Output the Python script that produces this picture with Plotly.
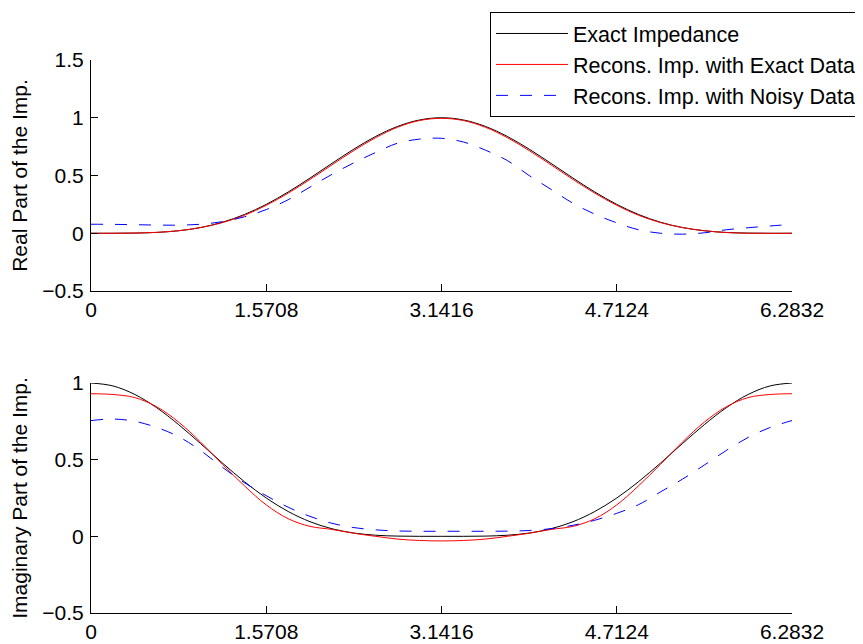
import plotly.graph_objects as go
from plotly.subplots import make_subplots

# x positions: k * pi/16, k = 0..32
x_vals = [0.0, 0.19635, 0.39270, 0.58905, 0.78540, 0.98175, 1.17810, 1.37445,
          1.57080, 1.76715, 1.96350, 2.15984, 2.35619, 2.55254, 2.74889, 2.94524,
          3.14159, 3.33794, 3.53429, 3.73064, 3.92699, 4.12334, 4.31969, 4.51604,
          4.71239, 4.90874, 5.10509, 5.30144, 5.49779, 5.69414, 5.89049, 6.08684,
          6.28319]

real_exact = [0.0, 0.0001, 0.0015, 0.0071, 0.0215, 0.0494, 0.0953, 0.1620,
              0.25, 0.3571, 0.4780, 0.6050, 0.7286, 0.8386, 0.9253, 0.9809,
              1.0, 0.9809, 0.9253, 0.8386, 0.7286, 0.6050, 0.4780, 0.3571,
              0.25, 0.1620, 0.0953, 0.0494, 0.0215, 0.0071, 0.0015, 0.0001, 0.0]

real_recon_exact = [0.0, 0.0, 0.002, 0.008, 0.022, 0.049, 0.092, 0.155,
                    0.242, 0.347, 0.466, 0.592, 0.716, 0.828, 0.918, 0.976,
                    0.995, 0.976, 0.918, 0.828, 0.716, 0.592, 0.466, 0.347,
                    0.242, 0.155, 0.092, 0.049, 0.022, 0.006, 0.0, -0.001, 0.0]

real_recon_noisy = [0.078, 0.077, 0.074, 0.071, 0.070, 0.078, 0.100, 0.142,
                    0.205, 0.290, 0.400, 0.510, 0.610, 0.700, 0.780, 0.815,
                    0.822, 0.790, 0.720, 0.630, 0.500, 0.380, 0.260, 0.165,
                    0.090, 0.030, 0.000, -0.008, 0.004, 0.030, 0.048, 0.063, 0.077]

imag_exact = [1.0, 0.9809, 0.9253, 0.8386, 0.7286, 0.6050, 0.4780, 0.3571,
              0.25, 0.1620, 0.0953, 0.0494, 0.0215, 0.0071, 0.0015, 0.0001,
              0.0, 0.0001, 0.0015, 0.0071, 0.0215, 0.0494, 0.0953, 0.1620,
              0.25, 0.3571, 0.4780, 0.6050, 0.7286, 0.8386, 0.9253, 0.9809, 1.0]

imag_recon_exact = [0.930, 0.925, 0.905, 0.845, 0.745, 0.615, 0.470, 0.330,
                    0.205, 0.115, 0.065, 0.045, 0.020, 0.000, -0.018, -0.027,
                    -0.030, -0.027, -0.018, 0.000, 0.020, 0.045, 0.065, 0.115,
                    0.205, 0.330, 0.470, 0.615, 0.745, 0.845, 0.905, 0.925, 0.930]

imag_recon_noisy = [0.755, 0.765, 0.750, 0.710, 0.650, 0.560, 0.450, 0.350,
                    0.265, 0.190, 0.130, 0.085, 0.057, 0.042, 0.035, 0.033,
                    0.033, 0.033, 0.033, 0.034, 0.038, 0.050, 0.072, 0.105,
                    0.150, 0.207, 0.290, 0.373, 0.465, 0.560, 0.645, 0.710, 0.755]

x_tick_vals = [0, 1.5708, 3.1416, 4.7124, 6.2832]
x_tick_text = ["0", "1.5708", "3.1416", "4.7124", "6.2832"]
y1_tick_vals = [-0.5, 0, 0.5, 1, 1.5]
y1_tick_text = ["\u22120.5", "0", "0.5", "1", "1.5"]
y2_tick_vals = [-0.5, 0, 0.5, 1]
y2_tick_text = ["\u22120.5", "0", "0.5", "1"]

names = ["Exact Impedance", "Recons. Imp. with Exact Data", "Recons. Imp. with Noisy Data"]

FONT = "Liberation Sans, Arial, Helvetica, sans-serif"

# page has an 8px body margin; figure coordinates = screen coordinates - 8
OFF = 8
W, H = 863 - OFF, 644 - OFF
ML, MR, MT, MB = 91 - OFF, 863 - 792, 60 - OFF, 644 - 613
PH = H - MT - MB
top_dom = [(613 - 291) / PH, 1.0]
bot_dom = [0.0, (613 - 383) / PH]

fig = make_subplots(rows=2, cols=1)

styles = [dict(color="#000000", width=1),
          dict(color="#ff0000", width=1),
          dict(color="#0000ff", width=1, dash="12px,12px")]

for i, (ys, name) in enumerate(zip([real_exact, real_recon_exact, real_recon_noisy], names)):
    fig.add_trace(go.Scatter(x=x_vals, y=ys, mode="lines", name=name,
                             line=dict(shape="spline", smoothing=1.0, **styles[i]),
                             showlegend=True), row=1, col=1)
for i, (ys, name) in enumerate(zip([imag_exact, imag_recon_exact, imag_recon_noisy], names)):
    fig.add_trace(go.Scatter(x=x_vals, y=ys, mode="lines", name=name,
                             line=dict(shape="spline", smoothing=1.0, **styles[i]),
                             showlegend=False), row=2, col=1)

axis_common = dict(showline=True, linecolor="#000000", linewidth=1, mirror=False,
                   ticks="inside", ticklen=7, tickcolor="#000000", tickwidth=1,
                   showgrid=False, zeroline=False, automargin=False,
                   tickfont=dict(family=FONT, size=21, color="#000000"))

fig.update_xaxes(range=[0, 6.2832], tickmode="array", tickvals=x_tick_vals,
                 ticktext=x_tick_text, **axis_common)
fig.update_yaxes(ticklabelstandoff=2, **axis_common)
fig.update_yaxes(range=[-0.5, 1.5], tickmode="array", tickvals=y1_tick_vals,
                 ticktext=y1_tick_text, domain=top_dom,
                 title=dict(text="Real Part of the Imp.", standoff=12,
                            font=dict(family=FONT, size=21, color="#000000")),
                 row=1, col=1)
fig.update_yaxes(range=[-0.5, 1.0], tickmode="array", tickvals=y2_tick_vals,
                 ticktext=y2_tick_text, domain=bot_dom,
                 title=dict(text="Imaginary Part of the Imp.", standoff=12,
                            font=dict(family=FONT, size=21, color="#000000")),
                 row=2, col=1)

fig.update_layout(
    width=W, height=H,
    margin=dict(l=ML, r=MR, t=MT, b=MB, autoexpand=False),
    paper_bgcolor="#ffffff", plot_bgcolor="#ffffff",
    font=dict(family=FONT, size=21, color="#000000"),
    legend=dict(x=(490 - 91) / (792 - 91), y=(613 - 12) / PH,
                xanchor="left", yanchor="top",
                bgcolor="#ffffff", bordercolor="#000000", borderwidth=1,
                font=dict(family=FONT, size=21.5, color="#000000"),
                itemwidth=72, tracegroupgap=0),
    showlegend=True,
)

fig.write_html("out.html")
